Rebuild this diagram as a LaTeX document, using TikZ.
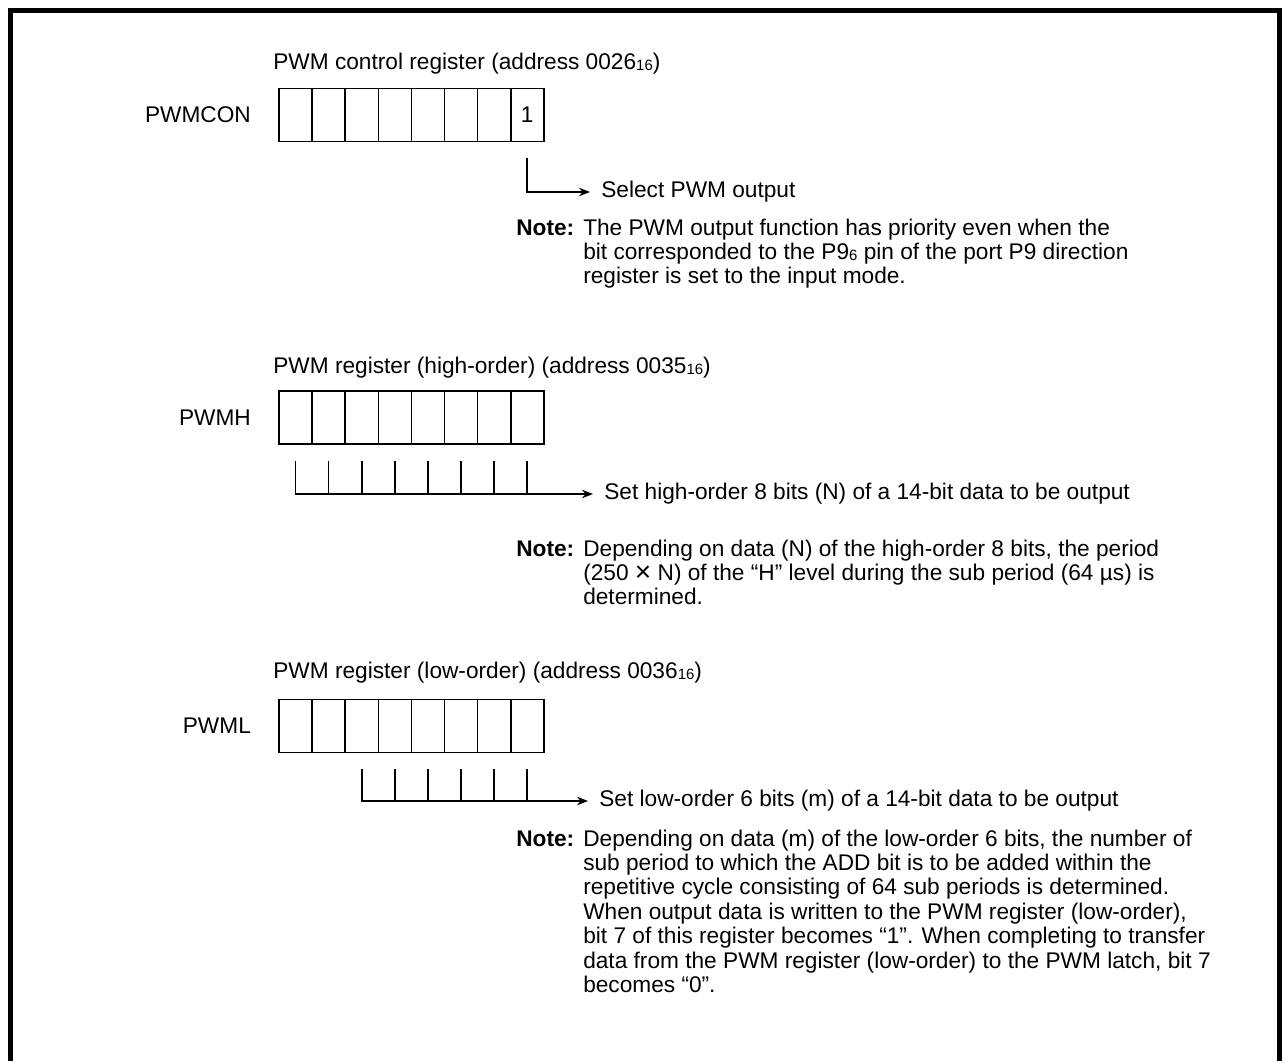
\documentclass[tikz,border=0pt]{standalone}
\usepackage{fontspec}
\setmainfont{Liberation Sans}
\usepackage{tikz}
\usetikzlibrary{positioning, arrows.meta}

\newcommand{\lowidx}[1]{\raisebox{-0.4pt}{\fontsize{8.5pt}{8.5pt}\selectfont #1}}
\newcommand{\timessign}{\raisebox{-0.6pt}{\fontsize{16pt}{16pt}\selectfont ×}}

\begin{document}
\begin{tikzpicture}[
  every node/.style={font=\fontsize{12.9pt}{13.9pt}\selectfont},
  cell/.style={rectangle, draw, line width=0.9pt, minimum width=0.662cm, minimum height=1.06cm, inner sep=0pt},
  reglabel/.style={inner sep=0.15cm},
  title/.style={anchor=west, inner sep=0.15cm},
  outlabel/.style={anchor=west, inner xsep=0.22cm},
  note/.style={anchor=base west, inner sep=0pt},
  wire/.style={line width=0.9pt},
  outarrow/.style={wire, -{Stealth[length=0.22cm, width=0.17cm]}}
]
  \useasboundingbox (0,0) rectangle (25.70,-21.22);

  % Frame (open at the bottom)
  \draw[line width=0.1cm] (0.21,-21.22) -- (0.21,-0.21) -- (25.59,-0.21) -- (25.59,-21.22);

  % PWM control register
  \node[title] (contitle) at (5.31,-1.27) {PWM control register (address 0026\lowidx{16})};
  \foreach \i in {0,...,7}
    \node[cell] (con\i) at ({5.911+\i*0.662},-2.30) {};
  \node at (con7) {1};
  \node[reglabel, left=0.39cm of con0] (conname) {PWMCON};

  \node[outlabel] (sel) at (11.80,-3.84) {Select PWM output};
  \draw[outarrow] ([yshift=-0.32cm]con7.south) |- (sel.west);

  \node[note] (note1) at (10.32,-4.70) {\begin{tabular}[t]{@{}l@{\hspace{0.18cm}}l@{}}
    \textbf{Note:} & The PWM output function has priority even when the\\
    & bit corresponded to the P9\lowidx{6} pin of the port P9 direction\\
    & register is set to the input mode.
  \end{tabular}};

  % PWM register (high-order)
  \node[title] (hititle) at (5.31,-7.36) {PWM register (high-order) (address 0035\lowidx{16})};
  \foreach \i in {0,...,7}
    \node[cell] (hi\i) at ({5.911+\i*0.662},-8.35) {};
  \node[reglabel, left=0.39cm of hi0] (hiname) {PWMH};

  \node[outlabel] (seth) at (11.86,-9.88) {Set high-order 8 bits (N) of a 14-bit data to be output};
  \draw[outarrow] ([yshift=-0.32cm]hi0.south) |- (seth.west);
  \foreach \i in {1,...,7}
    \draw[wire] ([yshift=-0.32cm]hi\i.south) -- (hi\i.south |- seth.west);

  \node[note] (note2) at (10.32,-11.12) {\begin{tabular}[t]{@{}l@{\hspace{0.18cm}}l@{}}
    \textbf{Note:} & Depending on data (N) of the high-order 8 bits, the period\\
    & (250 \timessign{} N) of the “H” level during the sub period (64 µs) is\\
    & determined.
  \end{tabular}};

  % PWM register (low-order)
  \node[title] (lotitle) at (5.31,-13.46) {PWM register (low-order) (address 0036\lowidx{16})};
  \foreach \i in {0,...,7}
    \node[cell] (lo\i) at ({5.911+\i*0.662},-14.52) {};
  \node[reglabel, left=0.39cm of lo0] (loname) {PWML};

  \node[outlabel] (setl) at (11.76,-16.02) {Set low-order 6 bits (m) of a 14-bit data to be output};
  \draw[outarrow] ([yshift=-0.32cm]lo2.south) |- (setl.west);
  \foreach \i in {3,...,7}
    \draw[wire] ([yshift=-0.32cm]lo\i.south) -- (lo\i.south |- setl.west);

  \node[note] (note3) at (10.32,-16.92) {\begin{tabular}[t]{@{}l@{\hspace{0.18cm}}l@{}}
    \textbf{Note:} & Depending on data (m) of the low-order 6 bits, the number of\\
    & sub period to which the ADD bit is to be added within the\\
    & repetitive cycle consisting of 64 sub periods is determined.\\
    & When output data is written to the PWM register (low-order),\\
    & bit 7 of this register becomes “1”. When completing to transfer\\
    & data from the PWM register (low-order) to the PWM latch, bit 7\\
    & becomes “0”.
  \end{tabular}};
\end{tikzpicture}
\end{document}
